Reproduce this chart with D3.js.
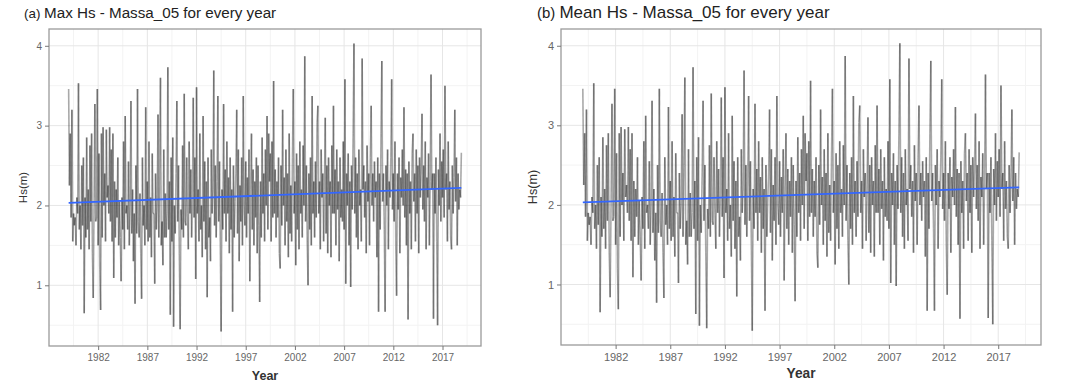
<!DOCTYPE html>
<html>
<head>
<meta charset="utf-8">
<script src="https://cdn.jsdelivr.net/npm/d3@7"></script>
<style>
  body { margin: 0; background: #fff; }
  svg { display: block; }
  text { font-family: "Liberation Sans", Arial, sans-serif; }
</style>
</head>
<body>
<svg id="chart" width="1079" height="383"></svg>
<script>
// monthly Hs (m), Jan 1979 .. Dec 2018, one row per year
const first_year = 1979;
const hs = [
  3.46, 2.25, 2.9, 1.85, 3.2, 1.55, 1.9, 1.75, 1.85, 1.5, 2.1, 1.9,
  3.53, 1.7, 2.0, 1.45, 2.5, 1.75, 2.6, 0.65, 2.1, 1.6, 2.85, 1.7,
  2.2, 1.45, 2.75, 1.8, 2.9, 1.4, 0.84, 2.0, 3.27, 1.8, 1.85, 3.46,
  1.5, 2.65, 1.2, 0.69, 2.9, 1.6, 2.98, 2.0, 2.4, 1.55, 2.95, 2.1,
  2.25, 1.9, 2.98, 1.8, 2.7, 1.55, 2.9, 1.09, 2.3, 1.6, 2.2, 1.85,
  2.6, 1.5, 2.05, 1.6, 1.05, 2.1, 1.7, 2.8, 1.45, 3.12, 1.9, 2.0,
  1.7, 2.55, 1.5, 2.0, 3.31, 1.65, 2.2, 1.3, 1.9, 0.77, 2.5, 1.65,
  3.46, 1.8, 1.6, 2.15, 1.4, 0.83, 2.6, 1.75, 2.0, 1.5, 3.23, 1.7,
  2.3, 1.55, 2.8, 1.6, 2.1, 1.35, 2.65, 1.9, 1.9, 1.02, 2.4, 1.7,
  2.0, 3.14, 1.6, 2.5, 3.6, 1.5, 1.8, 1.25, 2.7, 1.6, 2.15, 1.6,
  1.9, 3.73, 1.7, 2.3, 0.63, 2.6, 1.55, 2.85, 0.48, 2.0, 1.65, 2.4,
  3.31, 1.8, 2.5, 1.4, 0.45, 1.95, 1.7, 2.75, 1.6, 3.4, 1.8, 1.75,
  2.6, 1.9, 1.45, 2.8, 1.9, 2.45, 1.6, 2.1, 3.35, 1.85, 2.6, 1.08,
  3.48, 1.9, 2.2, 1.55, 2.9, 1.7, 2.0, 1.35, 3.12, 1.8, 2.55, 1.45,
  2.3, 0.85, 2.6, 1.6, 1.85, 1.3, 2.7, 1.9, 2.2, 3.69, 1.75, 2.5,
  1.6, 2.3, 3.37, 1.8, 2.55, 1.5, 0.42, 2.2, 1.7, 3.27, 1.9, 2.45,
  1.55, 2.8, 1.9, 2.35, 1.4, 2.6, 1.7, 2.2, 0.67, 2.5, 1.6, 2.05,
  2.4, 3.2, 1.65, 2.7, 1.3, 2.25, 1.8, 2.6, 1.5, 3.37, 2.0, 1.75,
  2.55, 1.6, 2.35, 1.9, 2.7, 1.05, 2.2, 2.9, 1.7, 2.45, 1.5, 2.3,
  1.85, 2.6, 1.4, 2.5, 1.75, 0.79, 2.3, 1.6, 2.85, 1.9, 2.4, 1.55,
  2.7, 2.0, 3.12, 1.7, 2.9, 2.3, 2.65, 1.55, 2.8, 1.85, 3.56, 1.9,
  2.45, 1.6, 2.3, 1.85, 2.6, 1.4, 1.21, 2.5, 1.75, 3.2, 2.0, 2.35,
  1.5, 2.7, 1.8, 2.4, 1.35, 2.9, 1.65, 2.25, 1.55, 2.6, 3.46, 1.9,
  2.3, 1.25, 2.65, 1.7, 2.5, 1.45, 2.8, 1.9, 2.2, 1.6, 2.75, 2.0,
  3.87, 1.8, 2.5, 1.55, 1.0, 2.4, 1.7, 2.6, 1.5, 3.37, 1.9, 2.3,
  1.6, 2.55, 1.85, 3.04, 3.25, 1.9, 2.3, 1.45, 2.7, 2.1, 2.4, 1.55,
  2.2, 3.1, 1.65, 2.5, 1.4, 2.6, 2.0, 2.3, 1.35, 2.75, 1.9, 3.25,
  1.9, 2.45, 1.5, 2.7, 1.95, 2.3, 1.3, 2.6, 1.85, 2.2, 1.8, 2.8,
  1.7, 3.58, 1.02, 2.4, 2.0, 2.65, 1.5, 2.3, 0.98, 2.5, 1.95, 2.9,
  4.03, 1.9, 2.6, 1.6, 2.4, 1.45, 2.7, 2.0, 2.2, 1.55, 3.84, 2.2,
  2.5, 1.85, 2.3, 1.4, 2.75, 2.05, 2.4, 1.5, 2.6, 3.25, 2.0, 2.4,
  1.8, 2.55, 2.1, 2.3, 1.35, 2.6, 0.67, 2.4, 1.7, 2.9, 3.81, 2.05,
  2.4, 1.7, 0.67, 2.5, 2.0, 2.7, 1.45, 2.3, 2.1, 2.6, 3.58, 1.95,
  2.4, 1.8, 2.8, 1.5, 0.87, 2.4, 1.95, 2.6, 1.4, 2.35, 2.1, 2.7,
  2.0, 3.23, 1.85, 2.45, 1.5, 2.4, 0.57, 2.55, 1.9, 2.3, 1.45, 2.65,
  2.9, 2.05, 2.4, 1.55, 2.7, 1.9, 2.5, 1.4, 2.6, 2.1, 2.5, 3.15,
  1.95, 2.5, 1.8, 2.8, 1.45, 2.35, 2.1, 2.65, 1.5, 2.3, 3.64, 2.2,
  2.4, 0.58, 2.4, 1.9, 2.6, 1.55, 0.5, 2.45, 2.0, 2.9, 1.8, 2.55,
  2.1, 2.7, 1.85, 3.5, 2.2, 2.4, 1.55, 2.8, 1.95, 2.3, 1.6, 1.45,
  2.5, 1.9, 2.35, 3.2, 2.05, 2.6, 1.5, 2.4, 1.95, 2.2, 2.1, 2.66
];
const x_ticks = [1982, 1987, 1992, 1997, 2002, 2007, 2012, 2017];
const x_minor = [1979.5, 1984.5, 1989.5, 1994.5, 1999.5, 2004.5, 2009.5, 2014.5, 2019.5];
const y_ticks = [1, 2, 3, 4];
const y_minor = [0.5, 1.5, 2.5, 3.5];
const titles = ['Max Hs - Massa_05 for every year', 'Mean Hs - Massa_05 for every year'];
const tags = ['(a)', '(b)'];

const data = hs.map((v, i) => ({ year: first_year + i / 12, hs: v }));

// lm fit like geom_smooth(method = "lm")
const mx = d3.mean(data, d => d.year);
const my = d3.mean(data, d => d.hs);
const slope = d3.sum(data, d => (d.year - mx) * (d.hs - my)) / d3.sum(data, d => (d.year - mx) ** 2);
const intercept = my - slope * mx;

const svg = d3.select('#chart');

function expand([a, b]) {
    const pad = (b - a) * 0.05;
    return [a - pad, b + pad];
}

function draw_panel(p, k) {
    const g = svg.append('g');
    const s = p.font_scale;

    const x = d3.scaleLinear().domain(expand(d3.extent(data, d => d.year))).range([p.left, p.right]);
    const y = d3.scaleLinear().domain(expand(d3.extent(data, d => d.hs))).range([p.bottom, p.top]);

    // grid
    g.selectAll('.xminor').data(x_minor).enter().append('line')
        .attr('x1', d => x(d)).attr('x2', d => x(d)).attr('y1', p.top).attr('y2', p.bottom)
        .attr('stroke', '#f3f3f3').attr('stroke-width', 1);
    g.selectAll('.yminor').data(y_minor).enter().append('line')
        .attr('y1', d => y(d)).attr('y2', d => y(d)).attr('x1', p.left).attr('x2', p.right)
        .attr('stroke', '#f3f3f3').attr('stroke-width', 1);
    g.selectAll('.xmajor').data(x_ticks).enter().append('line')
        .attr('x1', d => x(d)).attr('x2', d => x(d)).attr('y1', p.top).attr('y2', p.bottom)
        .attr('stroke', '#e6e6e6').attr('stroke-width', 1);
    g.selectAll('.ymajor').data(y_ticks).enter().append('line')
        .attr('y1', d => y(d)).attr('y2', d => y(d)).attr('x1', p.left).attr('x2', p.right)
        .attr('stroke', '#e6e6e6').attr('stroke-width', 1);

    // series, one segment per pair so overlaps darken
    const pairs = d3.pairs(data);
    g.append('g').selectAll('line').data(pairs).enter().append('line')
        .attr('x1', d => x(d[0].year)).attr('y1', d => y(d[0].hs))
        .attr('x2', d => x(d[1].year)).attr('y2', d => y(d[1].hs))
        .attr('stroke', '#111')
        .attr('stroke-opacity', 0.36)
        .attr('stroke-width', 1.6);

    // trend
    const ext = d3.extent(data, d => d.year);
    g.append('line')
        .attr('x1', x(ext[0])).attr('y1', y(intercept + slope * ext[0]))
        .attr('x2', x(ext[1])).attr('y2', y(intercept + slope * ext[1]))
        .attr('stroke', '#3366FF')
        .attr('stroke-width', 1.8);

    // border
    g.append('rect')
        .attr('x', p.left).attr('y', p.top)
        .attr('width', p.right - p.left).attr('height', p.bottom - p.top)
        .attr('fill', 'none').attr('stroke', '#9a9a9a').attr('stroke-width', 1.3);

    // axes
    const xa = g.append('g')
        .attr('transform', `translate(0,${p.bottom})`)
        .call(d3.axisBottom(x).tickValues(x_ticks).tickFormat(d3.format('d')).tickSize(4).tickPadding(4));
    const ya = g.append('g')
        .attr('transform', `translate(${p.left},0)`)
        .call(d3.axisLeft(y).tickValues(y_ticks).tickFormat(d3.format('d')).tickSize(4).tickPadding(3));
    [xa, ya].forEach(a => {
        a.select('.domain').remove();
        a.selectAll('.tick line').attr('stroke', '#777');
        a.selectAll('.tick text')
            .attr('fill', '#666')
            .style('font-family', '"Liberation Sans", Arial, sans-serif')
            .style('font-size', `${10 * s}px`);
    });

    // axis titles
    g.append('text')
        .attr('x', (p.left + p.right) / 2)
        .attr('y', p.bottom + p.year_dy)
        .attr('text-anchor', 'middle')
        .attr('fill', '#333')
        .style('font-size', `${12.5 * s}px`)
        .style('font-weight', 'bold')
        .text('Year');
    g.append('text')
        .attr('transform', `translate(${p.left - 22 * s},${(p.top + p.bottom) / 2}) rotate(-90)`)
        .attr('text-anchor', 'middle')
        .attr('fill', '#333')
        .style('font-size', `${11.5 * s}px`)
        .text('Hs(m)');

    // title
    const t = g.append('text')
        .attr('x', p.title_x)
        .attr('y', 18)
        .attr('fill', '#222')
        .style('font-size', `${p.title_size}px`);
    t.append('tspan').style('font-size', `${p.title_size * 0.88}px`).text(tags[k] + ' ');
    t.append('tspan').text(titles[k]);
}

const panels = [
    { left: 49, right: 481, top: 29, bottom: 346, font_scale: 1, title_x: 24, title_size: 15.2, year_dy: 34 },
    { left: 561, right: 1041, top: 29, bottom: 345, font_scale: 1.1, title_x: 537, title_size: 17, year_dy: 33 }
];
panels.forEach(draw_panel);
</script>
</body>
</html>
